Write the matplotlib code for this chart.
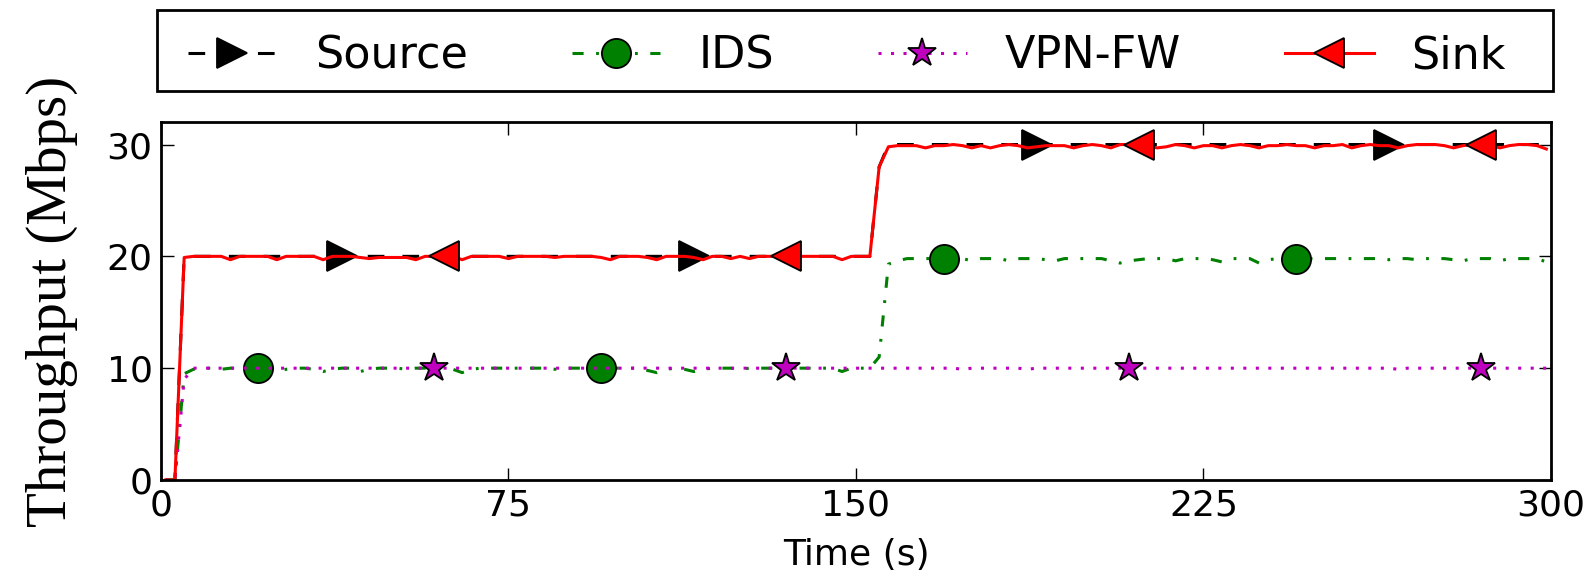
import matplotlib
matplotlib.use("Agg")
from matplotlib import pyplot as plt
from matplotlib.patches import Rectangle

# samples every 2 s
TIME = list(range(1, 300, 2))

SOURCE = [
    0, 0, 20, 20, 20, 20, 20, 20, 20, 20,
    20, 20, 20, 20, 20, 20, 20, 20, 20, 20,
    20, 20, 20, 20, 20, 20, 20, 20, 20, 20,
    20, 20, 20, 20, 20, 20, 20, 20, 20, 20,
    20, 20, 20, 20, 20, 20, 20, 20, 20, 20,
    20, 20, 20, 20, 20, 20, 20, 20, 20, 20,
    20, 20, 20, 20, 20, 20, 20, 20, 20, 20,
    20, 20, 20, 20, 20, 20, 20, 28, 30, 30,
    30, 30, 30, 30, 30, 30, 30, 30, 30, 30,
    30, 30, 30, 30, 30, 30, 30, 30, 30, 30,
    30, 30, 30, 30, 30, 30, 30, 30, 30, 30,
    30, 30, 30, 30, 30, 30, 30, 30, 30, 30,
    30, 30, 30, 30, 30, 30, 30, 30, 30, 30,
    30, 30, 30, 30, 30, 30, 30, 30, 30, 30,
    30, 30, 30, 30, 30, 30, 30, 30, 30, 30,
]

IDS = [
    0.0, 0.0, 9.5, 9.9, 10.0, 10.0, 9.9, 10.0, 10.0, 10.0,
    10.0, 9.9, 9.7, 9.9, 10.0, 10.0, 9.9, 9.7, 9.9, 10.0,
    10.0, 9.7, 9.9, 10.0, 10.0, 10.0, 9.9, 10.0, 10.0, 10.0,
    10.0, 9.9, 9.6, 9.9, 10.0, 10.0, 10.0, 10.0, 10.0, 10.0,
    10.0, 10.0, 9.9, 10.0, 10.0, 10.0, 10.0, 10.0, 10.0, 10.0,
    10.0, 10.0, 9.8, 9.6, 9.9, 10.0, 9.9, 9.7, 9.9, 10.0,
    10.0, 10.0, 9.9, 10.0, 10.0, 10.0, 10.0, 9.8, 10.0, 10.0,
    10.0, 10.0, 10.0, 9.7, 10.0, 10.0, 10.0, 11.0, 19.3, 19.6,
    19.8, 19.8, 19.8, 19.8, 19.8, 19.8, 19.8, 19.6, 19.8, 19.8,
    19.8, 19.6, 19.8, 19.8, 19.8, 19.7, 19.6, 19.8, 19.8, 19.8,
    19.8, 19.8, 19.6, 19.4, 19.6, 19.7, 19.8, 19.8, 19.8, 19.6,
    19.8, 19.8, 19.8, 19.7, 19.5, 19.8, 19.8, 19.8, 19.4, 19.7,
    19.8, 19.8, 19.8, 19.8, 19.8, 19.8, 19.8, 19.8, 19.8, 19.8,
    19.8, 19.8, 19.7, 19.8, 19.8, 19.7, 19.8, 19.8, 19.8, 19.7,
    19.6, 19.8, 19.8, 19.8, 19.6, 19.8, 19.8, 19.8, 19.8, 19.5,
]

VPN_FW = [
    0.0, 0.0, 9.0, 10.0, 10.0, 10.0, 10.0, 10.0, 10.0, 10.0,
    10.0, 10.0, 10.0, 10.0, 10.0, 10.0, 10.0, 10.0, 10.0, 10.0,
    10.0, 10.0, 10.0, 10.0, 10.0, 10.0, 10.0, 10.0, 10.0, 10.0,
    10.0, 10.0, 10.0, 10.0, 10.0, 10.0, 10.0, 10.0, 10.0, 10.0,
    10.0, 10.0, 10.0, 10.0, 10.0, 10.0, 10.0, 10.0, 10.0, 10.0,
    10.0, 10.0, 10.0, 10.0, 10.0, 10.0, 10.0, 10.0, 10.0, 10.0,
    10.0, 10.0, 10.0, 10.0, 10.0, 10.0, 10.0, 10.0, 10.0, 10.0,
    10.0, 10.0, 10.0, 10.0, 10.0, 10.0, 10.0, 10.0, 10.0, 10.0,
    10.0, 10.0, 10.0, 10.0, 10.0, 10.0, 9.9, 10.0, 10.0, 10.0,
    10.0, 10.0, 10.0, 9.9, 10.0, 10.0, 10.0, 10.0, 10.0, 10.0,
    10.0, 10.0, 10.0, 10.0, 10.0, 10.0, 10.0, 10.0, 10.0, 10.0,
    10.0, 10.0, 10.0, 10.0, 10.0, 10.0, 10.0, 10.0, 10.0, 10.0,
    10.0, 10.0, 10.0, 10.0, 10.0, 10.0, 10.0, 10.0, 10.0, 10.0,
    10.0, 10.0, 10.0, 9.9, 10.0, 10.0, 10.0, 10.0, 10.0, 10.0,
    10.0, 10.0, 10.0, 10.0, 10.0, 10.0, 10.0, 10.0, 10.0, 10.0,
]

SINK = [
    0.0, 0.0, 19.9, 20.0, 20.0, 20.0, 20.0, 19.7, 20.0, 20.0,
    20.0, 20.0, 19.7, 20.0, 20.0, 20.0, 20.0, 19.7, 20.0, 20.0,
    20.0, 19.9, 19.8, 19.9, 19.9, 19.9, 19.9, 19.7, 20.0, 20.0,
    20.0, 20.0, 19.7, 20.0, 20.0, 20.0, 20.0, 19.8, 20.0, 20.0,
    20.0, 20.0, 19.9, 20.0, 20.0, 20.0, 20.0, 19.9, 19.7, 20.0,
    20.0, 20.0, 19.9, 19.7, 20.0, 20.0, 20.0, 19.9, 19.7, 20.0,
    20.0, 19.8, 20.0, 19.8, 20.0, 20.0, 20.0, 20.0, 20.0, 20.0,
    20.0, 20.0, 20.0, 19.7, 20.0, 20.0, 20.0, 28.0, 29.8, 29.9,
    29.9, 29.9, 29.7, 29.9, 29.9, 30.0, 29.9, 29.7, 29.9, 29.7,
    29.9, 30.0, 29.9, 29.7, 29.8, 29.9, 29.9, 29.9, 29.7, 29.9,
    30.0, 29.9, 29.7, 30.0, 30.0, 30.0, 29.9, 29.7, 29.8, 30.0,
    29.9, 29.7, 29.9, 29.9, 29.7, 29.9, 30.0, 29.9, 29.7, 29.9,
    29.9, 30.0, 29.9, 29.9, 29.7, 29.9, 29.9, 30.0, 29.7, 29.9,
    30.0, 29.9, 29.9, 29.7, 29.9, 30.0, 30.0, 30.0, 29.9, 29.7,
    29.9, 30.0, 30.0, 29.9, 29.7, 29.9, 30.0, 30.0, 29.9, 29.6,
]

# times (s) where the markers sit
SOURCE_MARKS = [39, 115, 189, 265]
IDS_MARKS = [21, 95, 169, 245]
VPN_FW_MARKS = [59, 135, 209, 285]
SINK_MARKS = [61, 135, 211, 285]

LABELS = ["Source", "IDS", "VPN-FW", "Sink"]
X_TICKS = [0, 75, 150, 225, 300]
Y_TICKS = [0, 10, 20, 30]

plt.rcParams["lines.scale_dashes"] = False
plt.rcParams["font.family"] = "DejaVu Sans"

styles = [
    dict(color="k", dashes=(12, 13), marker=">", mfc="k"),
    dict(color="#008000", dashes=(8, 9, 2, 9), marker="o", mfc="#008000"),
    dict(color="#bf00bf", dashes=(2.2, 6.8), marker="*", mfc="#bf00bf"),
    dict(color="#ff0000", linestyle="-", marker="<", mfc="#ff0000"),
]
series = [SOURCE, IDS, VPN_FW, SINK]
marks = [SOURCE_MARKS, IDS_MARKS, VPN_FW_MARKS, SINK_MARKS]

fig = plt.figure(figsize=(15.94, 5.79), dpi=100)
ax = fig.add_axes([0.101, 0.171, 0.872, 0.618])

for values, label, style, mark_times in zip(series, LABELS, styles, marks):
    ax.plot(TIME, values, lw=2.2, ms=21, mec="k", mew=1.3,
            markevery=[TIME.index(t) for t in mark_times],
            label=label, **style)

ax.set_xlim(0, 300)
ax.set_ylim(0, 32)
ax.set_xticks(X_TICKS)
ax.set_yticks(Y_TICKS)
ax.tick_params(direction="in", length=9, width=1, top=True, right=True,
               labelsize=26, pad=6)
for spine in ax.spines.values():
    spine.set_linewidth(2)

ax.set_xlabel("Time (s)", fontsize=26)
ax.xaxis.set_label_coords(0.5, -0.162)
ax.set_ylabel("Throughput (Mbps)", fontsize=41, family="Liberation Serif")
ax.yaxis.set_label_coords(-0.060, 0.5)

# legend entries spread over the top, frame drawn as its own box
ax.legend(loc="center", bbox_to_anchor=(0.0194, 1.136, 0.9482, 0.1),
          mode="expand", ncol=4, borderaxespad=0, borderpad=0, numpoints=1,
          fontsize=32, frameon=False, handlelength=2, handletextpad=0.85)
fig.patches.append(Rectangle((0.0985, 0.8428), 0.8758, 0.1399,
                             transform=fig.transFigure, fill=False,
                             edgecolor="k", linewidth=2))

fig.savefig("out.png", dpi=100)
plt.close(fig)
